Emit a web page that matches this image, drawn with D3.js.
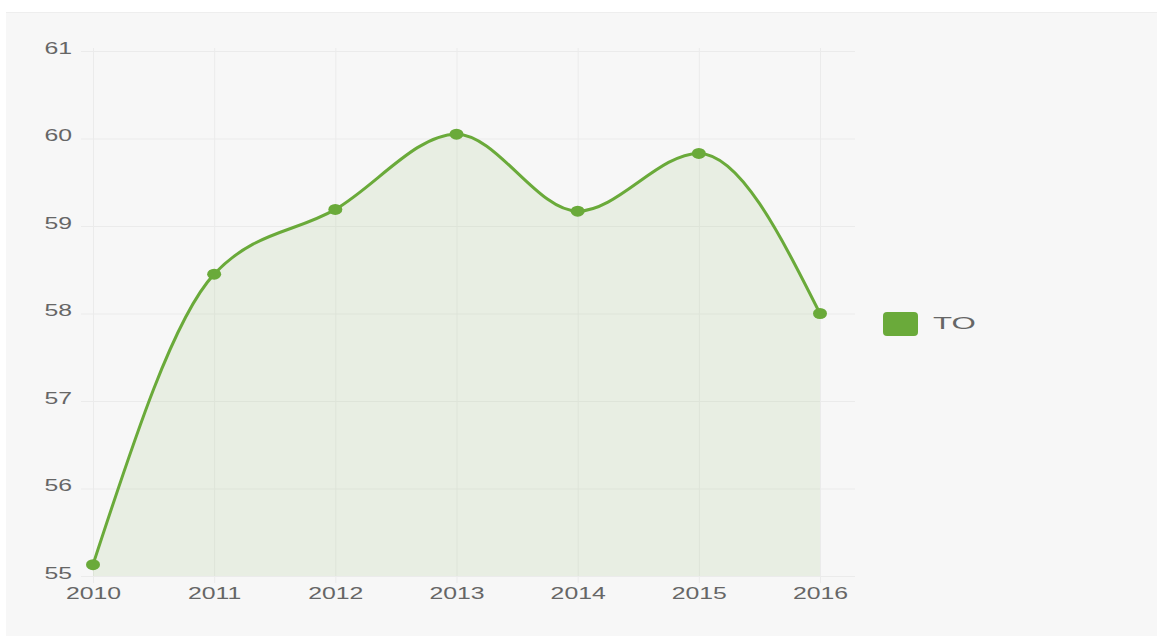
<!DOCTYPE html>
<html>
<head>
<meta charset="utf-8">
<script src="https://cdn.jsdelivr.net/npm/d3@7"></script>
<style>
  body { margin: 0; background: #fff; }
  svg { display: block; }
</style>
</head>
<body>
<svg id="chart"></svg>
<script>
const years = ["2010", "2011", "2012", "2013", "2014", "2015", "2016"];
const values = [55.13, 58.45, 59.19, 60.05, 59.17, 59.83, 58.0];
const yTicks = [55, 56, 57, 58, 59, 60, 61];
const seriesName = "TO";

const width = 1157, height = 636;
const color = "#6aaa3a";
const font = "Liberation Sans, Arial, sans-serif";
const stretch = 1.55; // the picture is wider than tall, text too

const svg = d3.select("#chart")
    .attr("width", width)
    .attr("height", height);

// panel
svg.append("rect")
    .attr("x", 6).attr("y", 12)
    .attr("width", width - 6).attr("height", height - 12)
    .attr("fill", "#f7f7f7");
svg.append("line")
    .attr("x1", 6).attr("x2", width)
    .attr("y1", 12.5).attr("y2", 12.5)
    .attr("stroke", "#eeeeee");

const x = d3.scalePoint()
    .domain(years)
    .range([93, 820]);

const y = d3.scaleLinear()
    .domain([55, 61])
    .range([576, 51]);

const gridRight = 855;

// horizontal grid + y labels
const yAxis = d3.axisLeft(y)
    .tickValues(yTicks)
    .tickSize(-(gridRight - 81))
    .tickFormat(d3.format("d"));

svg.append("g")
    .attr("transform", "translate(81,0)")
    .call(yAxis)
    .call(g => g.select(".domain").remove())
    .call(g => g.selectAll(".tick line").attr("stroke", "#ebebeb").attr("stroke-width", 1))
    .call(g => g.selectAll(".tick text")
        .attr("x", 0)
        .attr("dy", null)
        .attr("y", 2)
        .attr("transform", `translate(-9,0) scale(${stretch},1)`)
        .attr("fill", "#666")
        .attr("font-size", 16)
        .attr("font-family", font));

// vertical grid + x labels
const xAxis = d3.axisBottom(x)
    .tickSize(-(583 - 48));

svg.append("g")
    .attr("transform", "translate(0,583)")
    .call(xAxis)
    .call(g => g.select(".domain").remove())
    .call(g => g.selectAll(".tick line").attr("stroke", "#ebebeb").attr("stroke-width", 1))
    .call(g => g.selectAll(".tick text")
        .attr("y", 16)
        .attr("dy", null)
        .attr("transform", `scale(${stretch},1)`)
        .attr("fill", "#666")
        .attr("font-size", 16)
        .attr("font-family", font));

const points = years.map((yr, i) => ({ year: yr, value: values[i] }));

const area = d3.area()
    .x(d => x(d.year))
    .y0(y(55))
    .y1(d => y(d.value))
    .curve(d3.curveMonotoneX);

const line = d3.line()
    .x(d => x(d.year))
    .y(d => y(d.value))
    .curve(d3.curveMonotoneX);

svg.append("path")
    .datum(points)
    .attr("d", area)
    .attr("fill", color)
    .attr("fill-opacity", 0.1);

svg.append("path")
    .datum(points)
    .attr("d", line)
    .attr("fill", "none")
    .attr("stroke", color)
    .attr("stroke-width", 3);

svg.selectAll(".dot")
    .data(points)
    .join("ellipse")
    .attr("class", "dot")
    .attr("cx", d => x(d.year))
    .attr("cy", d => y(d.value))
    .attr("rx", 7)
    .attr("ry", 5.5)
    .attr("fill", color);

// legend
const legend = svg.append("g")
    .attr("transform", "translate(883,312)");
legend.append("rect")
    .attr("width", 35).attr("height", 24)
    .attr("rx", 4)
    .attr("fill", color);
legend.append("text")
    .attr("transform", "translate(50,16.5) scale(1.95,1)")
    .attr("fill", "#666")
    .attr("font-size", 16)
    .attr("font-family", font)
    .text(seriesName);
</script>
</body>
</html>
